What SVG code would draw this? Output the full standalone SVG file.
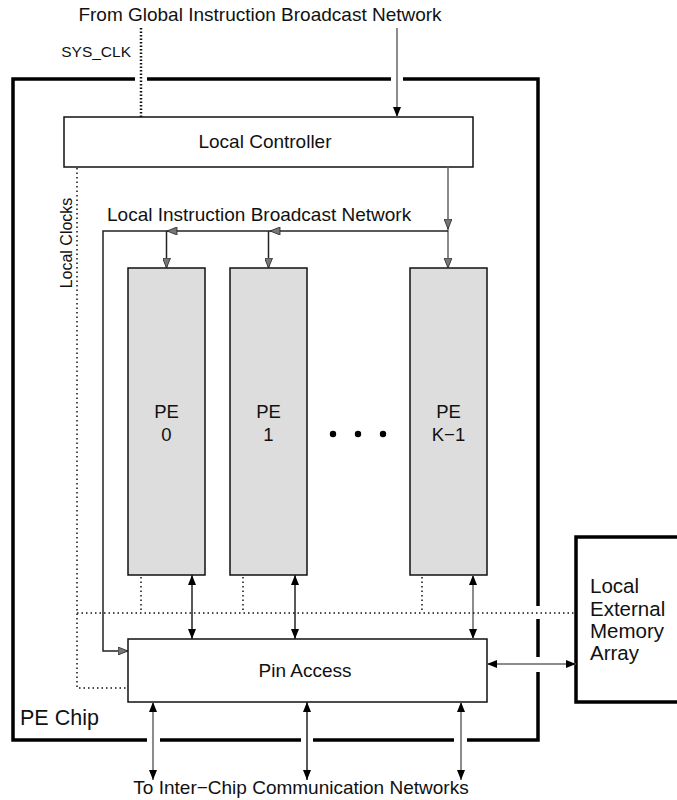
<svg xmlns="http://www.w3.org/2000/svg" width="677" height="800" viewBox="0 0 677 800">
<style>
text{font-family:"Liberation Sans",Arial,sans-serif;fill:#111}
.box{fill:#fff;stroke:#111;stroke-width:1.5}
.pe{fill:#dddddd;stroke:#111;stroke-width:1.5}
.thick{fill:none;stroke:#000;stroke-width:3.5}
.ln{fill:none;stroke:#666;stroke-width:1.5}
.lk{fill:none;stroke:#222;stroke-width:1.5}
.dot{fill:none;stroke:#111;stroke-width:1.5;stroke-dasharray:1.5 3}
.dot2{fill:none;stroke:#111;stroke-width:2.5;stroke-dasharray:1.5 2}
</style>
<defs>
<marker id="ga" viewBox="0 0 10 8" refX="10" refY="4" markerWidth="11" markerHeight="8" markerUnits="userSpaceOnUse" orient="auto">
<path d="M0,0 L10,4 L0,8 Z" fill="#777" stroke="#222" stroke-width="0.8"/>
</marker>
<marker id="ba" viewBox="0 0 10 8" refX="10" refY="4" markerWidth="12" markerHeight="8" markerUnits="userSpaceOnUse" orient="auto-start-reverse">
<path d="M0,0 L10,4 L0,8 Z" fill="#000"/>
</marker>
</defs>

<g id="pe-chip">
<path class="thick" d="M135,79 H13 V740 H147 M160,740 H301 M313,740 H454 M467,740 H538 V672 M538,657 V619 M538,606 V79 H403 M391,79 H147"/>
<text x="20" y="725" font-size="21.5">PE Chip</text>
</g>

<g id="local-controller">
<rect class="box" x="64" y="117" width="409" height="50"/>
<text x="265" y="148" font-size="19" text-anchor="middle">Local Controller</text>
</g>

<g id="pe0">
<rect class="pe" x="128" y="268" width="77" height="307"/>
<text x="166.5" y="418" font-size="18.5" text-anchor="middle">PE</text>
<text x="166.5" y="441" font-size="18.5" text-anchor="middle">0</text>
</g>
<g id="pe1">
<rect class="pe" x="230" y="268" width="77" height="307"/>
<text x="268.5" y="418" font-size="18.5" text-anchor="middle">PE</text>
<text x="268.5" y="441" font-size="18.5" text-anchor="middle">1</text>
</g>
<g id="pek1">
<rect class="pe" x="410" y="268" width="77" height="307"/>
<text x="448.5" y="418" font-size="18.5" text-anchor="middle">PE</text>
<text x="448.5" y="441" font-size="18.5" text-anchor="middle">K−1</text>
</g>
<g id="ellipsis">
<circle cx="333" cy="434" r="3.2" fill="#000"/>
<circle cx="358" cy="434" r="3.2" fill="#000"/>
<circle cx="383" cy="434" r="3.2" fill="#000"/>
</g>

<g id="pin-access">
<rect class="box" x="128" y="639" width="359" height="63"/>
<text x="305" y="677" font-size="19" text-anchor="middle">Pin Access</text>
</g>

<g id="memory">
<rect fill="#fff" stroke="#000" stroke-width="3.5" x="576" y="537" width="120" height="165"/>
<text x="590" y="593" font-size="20.5">Local</text>
<text x="590" y="616" font-size="20.5">External</text>
<text x="590" y="638" font-size="20.5">Memory</text>
<text x="590" y="660" font-size="20.5">Array</text>
</g>

<g id="connectors">
<path class="dot2" d="M141,28 V117"/>
<path class="ln" d="M397,28 V117" marker-end="url(#ba)"/>
<path class="ln" d="M448,167 V229" marker-end="url(#ga)"/>
<path class="ln" d="M448,229 V268" marker-end="url(#ga)"/>
<path class="lk" d="M448,231 H270" marker-end="url(#ga)"/>
<path class="lk" d="M270,231 H167" marker-end="url(#ga)"/>
<path class="lk" d="M167,231 H103 V651 H128" marker-end="url(#ga)"/>
<path class="lk" d="M166.5,231 V268" marker-end="url(#ga)"/>
<path class="lk" d="M268.5,231 V268" marker-end="url(#ga)"/>
<path class="lk" d="M192,575 V639" marker-start="url(#ba)" marker-end="url(#ba)"/>
<path class="lk" d="M295,575 V639" marker-start="url(#ba)" marker-end="url(#ba)"/>
<path class="ln" d="M473,575 V639" marker-start="url(#ba)" marker-end="url(#ba)"/>
<path class="ln" d="M487,664 H576" marker-start="url(#ba)" marker-end="url(#ba)"/>
<path class="ln" d="M153,702 V780" marker-start="url(#ba)" marker-end="url(#ba)"/>
<path class="lk" d="M307,702 V780" marker-start="url(#ba)" marker-end="url(#ba)"/>
<path class="ln" d="M461,702 V780" marker-start="url(#ba)" marker-end="url(#ba)"/>
<path class="dot" d="M77,168 V688 H127"/>
<path class="dot" d="M77,613 H575"/>
<path class="dot" d="M141,577 V613 M243,577 V613 M422,577 V613"/>
</g>

<g id="labels">
<text x="260" y="21" font-size="19" text-anchor="middle">From Global Instruction Broadcast Network</text>
<text x="131" y="57" font-size="15.5" text-anchor="end">SYS_CLK</text>
<text x="107" y="221" font-size="19">Local Instruction Broadcast Network</text>
<text transform="translate(72,243) rotate(-90)" font-size="16" text-anchor="middle">Local Clocks</text>
<text x="301" y="794" font-size="19" text-anchor="middle">To Inter−Chip Communication Networks</text>
</g>
</svg>
